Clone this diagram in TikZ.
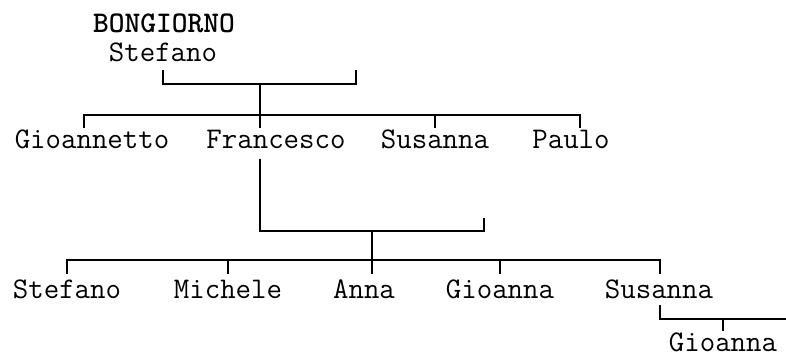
\documentclass[tikz,border=0pt]{standalone}
\usepackage{fontspec}
\begin{document}
\begin{tikzpicture}[x=1pt,y=-1pt,
  person/.style={font=\ttfamily\fontsize{30}{36}\selectfont, inner sep=0pt, anchor=base},
  link/.style={line width=1.8pt, line cap=rect}]
\useasboundingbox (0,0) rectangle (786,358);
% generation 1
\node[person] (bong) at (164,33) {\bfseries BONGIORNO};
\node[person] (stefA) at (163,62) {Stefano};
% generation 2
\node[person] (gioannetto) at (92,149) {Gioannetto};
\node[person] (francesco) at (276,149) {Francesco};
\node[person] (susannaA) at (435,149) {Susanna};
\node[person] (paulo) at (571,149) {Paulo};
% generation 3
\node[person] (stefB) at (67,298) {Stefano};
\node[person] (michele) at (228,298) {Michele};
\node[person] (anna) at (364,298) {Anna};
\node[person] (gioannaA) at (500,298) {Gioanna};
\node[person] (susannaB) at (659,298) {Susanna};
% generation 4
\node[person] (gioannaB) at (723,351) {Gioanna};
% coordinates
\coordinate (m1l) at (163,71);
\coordinate (m1r) at (356,71);
\coordinate (m1c) at (260,84);
\coordinate (b1c) at (260,115);
\coordinate (b1l) at (84,115);
\coordinate (b1r) at (580,115);
\coordinate (t11) at (84,127);
\coordinate (t12) at (260,127);
\coordinate (t13) at (435,127);
\coordinate (t14) at (580,127);
\coordinate (m2l) at (260,160);
\coordinate (m2r) at (484,219);
\coordinate (m2c) at (372,231);
\coordinate (b2c) at (372,260);
\coordinate (b2l) at (67,260);
\coordinate (b2r) at (660,260);
\coordinate (t21) at (67,273);
\coordinate (t22) at (228,273);
\coordinate (t23) at (372,273);
\coordinate (t24) at (500,273);
\coordinate (t25) at (660,273);
\coordinate (m3l) at (660,306);
\coordinate (m3r) at (786,319);
\coordinate (m3c) at (723,319);
\coordinate (t31) at (723,330);
% marriage 1
\draw[link] (m1l) -- ++(0,13) -| (m1r);
\draw[link] (m1c) -- (b1c);
\draw[link] (b1l) -- (b1r);
\draw[link] (b1l) -- (t11);
\draw[link] (b1c) -- (t12);
\draw[link] (t13 |- b1c) -- (t13);
\draw[link] (b1r) -- (t14);
% marriage 2
\draw[link] (m2l) |- (m2c) -| (m2r);
\draw[link] (m2c) -- (b2c);
\draw[link] (b2l) -- (b2r);
\draw[link] (b2l) -- (t21);
\draw[link] (t22 |- b2c) -- (t22);
\draw[link] (b2c) -- (t23);
\draw[link] (t24 |- b2c) -- (t24);
\draw[link] (b2r) -- (t25);
% marriage 3
\draw[link] (m3l) |- (m3r);
\draw[link] (m3c) -- (t31);
\end{tikzpicture}
\end{document}
